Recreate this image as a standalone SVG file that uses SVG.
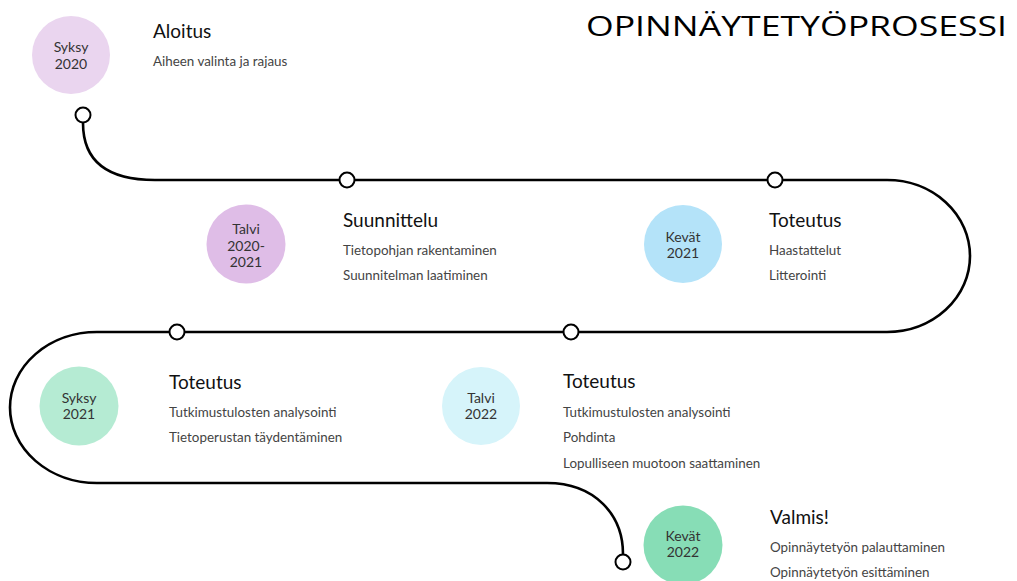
<svg xmlns="http://www.w3.org/2000/svg" width="1017" height="581" viewBox="0 0 1017 581">
<style>
.bg{fill:#ffffff}
.track{fill:none;stroke:#000;stroke-width:2.6}
.dot{fill:#fff;stroke:#000;stroke-width:2}
.ct{font-family:Lato,"Noto Sans",sans-serif;font-size:14px;fill:#333;text-anchor:middle}
.h{font-family:Lato,"Noto Sans",sans-serif;font-size:19px;fill:#111}
.s{font-family:Lato,"Noto Sans",sans-serif;font-size:13.4px;fill:#444}
.title{font-family:"Open Sans","Noto Sans",sans-serif;font-size:27px;fill:#000}
</style>
<rect class="bg" x="0" y="0" width="1017" height="581"/>
<text class="title" x="586" y="36" textLength="421" lengthAdjust="spacingAndGlyphs">OPINNÄYTETYÖPROSESSI</text>
<g id="connectors">
<path class="track" d="M 83 123 C 83 162, 108 180, 155 180 L 887 180 A 83 76 0 0 1 887 332 L 97 332 A 87 75.5 0 0 0 97 483 L 547 483 C 595 483, 623 515, 623 554"/>
<circle class="dot" cx="83" cy="115" r="7.5"/>
<circle class="dot" cx="347" cy="180" r="7.5"/>
<circle class="dot" cx="775" cy="180" r="7.5"/>
<circle class="dot" cx="177" cy="332" r="7.5"/>
<circle class="dot" cx="571" cy="332" r="7.5"/>
<circle class="dot" cx="623" cy="562" r="7.5"/>
</g>
<g id="n1">
<circle cx="71" cy="55" r="39" fill="#ead5ef"/>
<text class="ct" x="71" y="52">Syksy</text>
<text class="ct" x="71" y="69">2020</text>
<text class="h" x="153" y="38">Aloitus</text>
<text class="s" x="153" y="66">Aiheen valinta ja rajaus</text>
</g>
<g id="n2">
<circle cx="246" cy="244" r="39.5" fill="#dfbde7"/>
<text class="ct" x="246" y="234">Talvi</text>
<text class="ct" x="246" y="251">2020-</text>
<text class="ct" x="246" y="267">2021</text>
<text class="h" x="343" y="227">Suunnittelu</text>
<text class="s" x="343" y="255">Tietopohjan rakentaminen</text>
<text class="s" x="343" y="280">Suunnitelman laatiminen</text>
</g>
<g id="n3">
<circle cx="683" cy="244" r="39" fill="#b4e3f9"/>
<text class="ct" x="683" y="242">Kevät</text>
<text class="ct" x="683" y="258">2021</text>
<text class="h" x="769" y="227">Toteutus</text>
<text class="s" x="769" y="255">Haastattelut</text>
<text class="s" x="769" y="280">Litterointi</text>
</g>
<g id="n4">
<circle cx="79" cy="406" r="39.5" fill="#b5ebd3"/>
<text class="ct" x="79" y="403">Syksy</text>
<text class="ct" x="79" y="419">2021</text>
<text class="h" x="169" y="389">Toteutus</text>
<text class="s" x="169" y="417">Tutkimustulosten analysointi</text>
<text class="s" x="169" y="442">Tietoperustan täydentäminen</text>
</g>
<g id="n5">
<circle cx="481" cy="406" r="39" fill="#d6f4fa"/>
<text class="ct" x="481" y="403">Talvi</text>
<text class="ct" x="481" y="419">2022</text>
<text class="h" x="563" y="388">Toteutus</text>
<text class="s" x="563" y="417">Tutkimustulosten analysointi</text>
<text class="s" x="563" y="442">Pohdinta</text>
<text class="s" x="563" y="468">Lopulliseen muotoon saattaminen</text>
</g>
<g id="n6">
<circle cx="683" cy="545" r="39.5" fill="#87ddb6"/>
<text class="ct" x="683" y="541">Kevät</text>
<text class="ct" x="683" y="557">2022</text>
<text class="h" x="770" y="524">Valmis!</text>
<text class="s" x="770" y="552">Opinnäytetyön palauttaminen</text>
<text class="s" x="770" y="577">Opinnäytetyön esittäminen</text>
</g>
</svg>
